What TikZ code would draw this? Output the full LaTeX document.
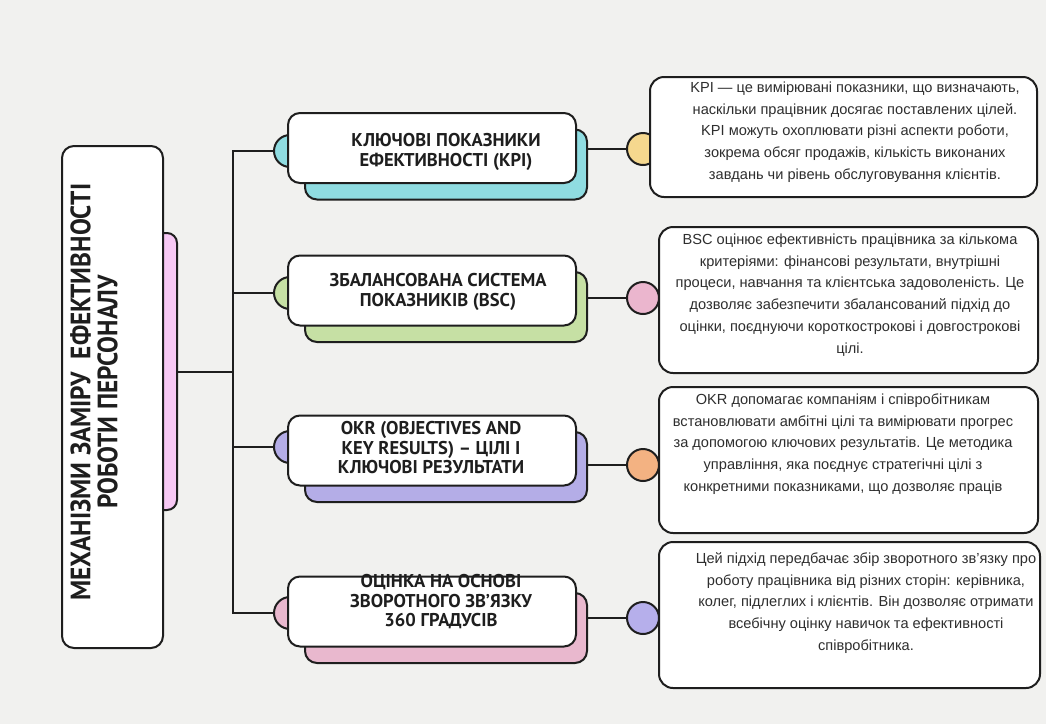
\documentclass[tikz,border=0pt]{standalone}
\usepackage{fontspec}
\usepackage{xcolor}
\usepackage{tikz}
\setmainfont{Liberation Sans}
\newfontfamily\headfont{PT Sans}
\newfontfamily\titlefont[FakeStretch=0.9]{PT Sans}
\pgfdeclarelayer{paper}
\pgfdeclarelayer{back}
\pgfsetlayers{paper,back,main}
\definecolor{Paper}{HTML}{F1F1EF}
\definecolor{Ink}{HTML}{1E1E1E}
\definecolor{BodyText}{HTML}{2E2E2E}
\definecolor{Orchid}{HTML}{F7C8F4}
\definecolor{Aqua}{HTML}{8FDCE1}
\definecolor{Sage}{HTML}{C6E0A4}
\definecolor{Lilac}{HTML}{B4ADE7}
\definecolor{Rose}{HTML}{E9B8CE}
\definecolor{Butter}{HTML}{F5D88E}
\definecolor{Blush}{HTML}{EBB6CE}
\definecolor{Peach}{HTML}{F3B282}
\definecolor{Lavender}{HTML}{B6AFEB}

\begin{document}
\begin{tikzpicture}[x=1pt, y=-1pt,
  wire/.style={draw=Ink, line width=2pt},
  mainbox/.style={rectangle, rounded corners=12pt, draw=Ink, line width=2pt, fill=white, minimum width=101pt, minimum height=502pt},
  tabbox/.style={rectangle, rounded corners=10pt, draw=Ink, line width=2pt, fill=Orchid, minimum width=27pt, minimum height=277pt},
  maintitle/.style={font=\titlefont\bfseries\fontsize{28}{27}\selectfont, text=Ink, align=center, inner sep=0pt},
  dot/.style={circle, draw=Ink, line width=2pt, minimum size=32pt, inner sep=0pt},
  topicbox/.style={rectangle, rounded corners=12pt, draw=Ink, line width=2pt, fill=white, minimum width=288pt, minimum height=70pt},
  topicshadow/.style={rectangle, rounded corners=12pt, draw=Ink, line width=2pt, minimum width=282pt, minimum height=70pt},
  topictext/.style={font=\headfont\bfseries\fontsize{18.5}{19.5}\selectfont, text=Ink, align=center, inner sep=0pt},
  notebox/.style={rectangle, rounded corners=14pt, draw=Ink, line width=2pt, fill=white, minimum width=379pt, minimum height=146pt},
  notetext/.style={font=\fontsize{14.6}{21.7}\selectfont, text=BodyText, align=center, inner sep=0pt}
]
\begin{pgfonlayer}{paper}
\fill[Paper] (0,0) rectangle (1046,724);
\end{pgfonlayer}

\node[tabbox] (tab) at (163.5,371.5) {};
\node[mainbox] (main) at (112.5,397) {};
\node[maintitle, rotate=90] (title) at (94,392) {МЕХАНІЗМИ ЗАМІРУ\ \ ЕФЕКТИВНОСТІ\\РОБОТИ ПЕРСОНАЛУ};
\coordinate (hub) at (233,373);

\node[dot, fill=Aqua] (kpidot) at (290,151) {};
\node[topicshadow, fill=Aqua] (kpishadow) at (446,164.5) {};
\node[topicbox] (kpi) at (432,148) {};
\node[topictext] (kpilabel) at (446,152) {КЛЮЧОВІ ПОКАЗНИКИ\\ЕФЕКТИВНОСТІ (KPI)};

\node[dot, fill=Sage] (bscdot) at (290,293) {};
\node[topicshadow, fill=Sage] (bscshadow) at (446,307) {};
\node[topicbox] (bsc) at (432,290.5) {};
\node[topictext] (bsclabel) at (438,292) {ЗБАЛАНСОВАНА СИСТЕМА\\ПОКАЗНИКІВ (BSC)};

\node[dot, fill=Lilac] (okrdot) at (290,447) {};
\node[topicshadow, fill=Lilac] (okrshadow) at (446,467) {};
\node[topicbox] (okr) at (432,450.5) {};
\node[topictext] (okrlabel) at (431,448) {OKR (OBJECTIVES AND\\KEY RESULTS) – ЦІЛІ І\\КЛЮЧОВІ РЕЗУЛЬТАТИ};

\node[dot, fill=Rose] (fbdot) at (290,613) {};
\node[topicshadow, fill=Rose] (fbshadow) at (446,628) {};
\node[topicbox] (fb) at (432,611.5) {};
\node[topictext] (fblabel) at (441,602) {ОЦІНКА НА ОСНОВІ\\ЗВОРОТНОГО ЗВ’ЯЗКУ\\360 ГРАДУСІВ};

\node[dot, fill=Butter] (kpinotedot) at (643,149) {};
\node[notebox, minimum width=387pt, minimum height=120pt] (kpinote) at (843.5,137) {};
\node[notetext] (kpinotetext) at (855,132) {KPI — це вимірювані показники, що визначають,\\наскільки працівник досягає поставлених цілей.\\KPI можуть охоплювати різні аспекти роботи,\\зокрема обсяг продажів, кількість виконаних\\завдань чи рівень обслуговування клієнтів.};

\node[dot, fill=Blush] (bscnotedot) at (643,298) {};
\node[notebox] (bscnote) at (848.5,300) {};
\node[notetext] (bscnotetext) at (850,295) {BSC оцінює ефективність працівника за кількома\\критеріями: фінансові результати, внутрішні\\процеси, навчання та клієнтська задоволеність. Це\\дозволяє забезпечити збалансований підхід до\\оцінки, поєднуючи короткострокові і довгострокові\\цілі.};

\node[dot, fill=Peach] (okrnotedot) at (643,465) {};
\node[notebox] (okrnote) at (848.5,460) {};
\node[notetext] (okrnotetext) at (843,444) {OKR допомагає компаніям і співробітникам\\встановлювати амбітні цілі та вимірювати прогрес\\за допомогою ключових результатів. Це методика\\управління, яка поєднує стратегічні цілі з\\конкретними показниками, що дозволяє праців};

\node[dot, fill=Lavender] (fbnotedot) at (643,618) {};
\node[notebox, minimum width=381pt] (fbnote) at (849.5,615) {};
\node[notetext] (fbnotetext) at (866,603) {Цей підхід передбачає збір зворотного зв’язку про\\роботу працівника від різних сторін: керівника,\\колег, підлеглих і клієнтів. Він дозволяє отримати\\всебічну оцінку навичок та ефективності\\співробітника.};

\begin{pgfonlayer}{back}
\draw[wire] (tab.east) -- (tab.east -| hub);
\draw[wire] (kpidot) -- (kpidot -| hub) -- (fbdot -| hub) -- (fbdot);
\draw[wire] (bscdot) -- (bscdot -| hub);
\draw[wire] (okrdot) -- (okrdot -| hub);
\draw[wire] (kpi.center |- kpinotedot) -- (kpinotedot);
\draw[wire] (bsc.center |- bscnotedot) -- (bscnotedot);
\draw[wire] (okr.center |- okrnotedot) -- (okrnotedot);
\draw[wire] (fb.center |- fbnotedot) -- (fbnotedot);
\end{pgfonlayer}
\end{tikzpicture}
\end{document}
